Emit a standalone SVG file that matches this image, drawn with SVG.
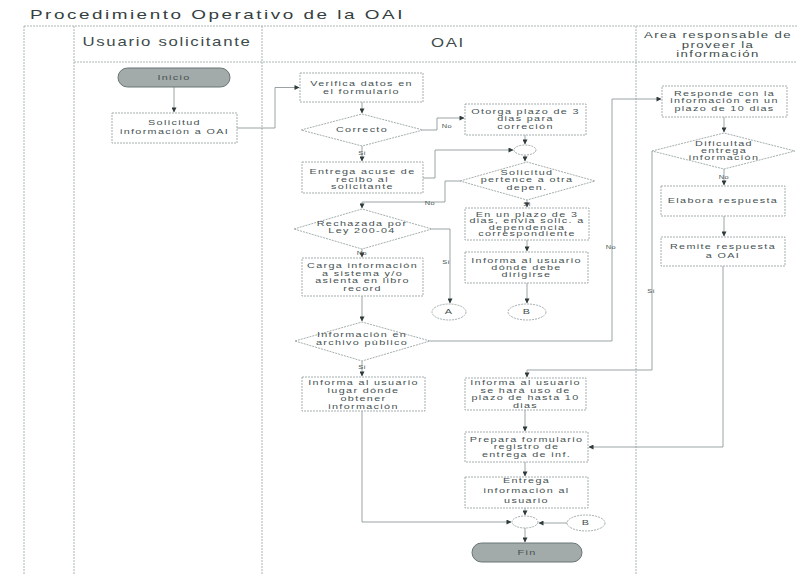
<svg xmlns="http://www.w3.org/2000/svg" width="797" height="575" viewBox="0 0 797 575">
<style>
.lane{fill:none;stroke:#aab4b4;stroke-width:1;stroke-dasharray:2 1}
.box{fill:#fff;stroke:#9aa4a4;stroke-width:0.9;stroke-dasharray:2 1}
.term{fill:#a2aaaa;stroke:#6a7474;stroke-width:1}
.con{fill:none;stroke:#8e9898;stroke-width:0.9;marker-end:url(#ah)}
text{font-family:"Liberation Sans",Arial,sans-serif;fill:#465252}
.t{font-size:7.2px;letter-spacing:0.9px;text-anchor:middle}
.lbl{font-size:5.5px;letter-spacing:0.4px;text-anchor:middle}
.hd{font-size:12px;letter-spacing:1.2px;text-anchor:middle;fill:#3d4b4b}
.hd2{font-size:8.5px;letter-spacing:0.9px;text-anchor:middle;fill:#3d4b4b}
.title{font-size:13.5px;letter-spacing:1.8px;fill:#344040}
</style>
<defs>
<marker id="ah" viewBox="0 0 10 10" refX="9" refY="5" markerWidth="7" markerHeight="5" orient="auto" markerUnits="userSpaceOnUse"><path d="M0,0 L10,5 L0,10 z" fill="#2f3a3a"/></marker>
</defs>
<rect width="797" height="575" fill="#fff"/>
<g id="frame">
<text class="title" transform="matrix(1.4 0 0 1 30 0)" x="0" y="19">Procedimiento Operativo de la OAI</text>
<path class="lane" d="M24,26 H797 M24,26 V575 M74,26 V575 M262,26 V575 M636,26 V575 M74,62 H797"/>
<text class="hd" transform="matrix(1.4 0 0 1 167 0)" x="0" y="46">Usuario solicitante</text>
<text class="hd" transform="matrix(1.4 0 0 1 448 0)" x="0" y="47">OAI</text>
<text class="hd2" transform="matrix(1.55 0 0 1 718 0)"><tspan x="0" y="38">Area responsable de</tspan><tspan x="0" y="48">proveer la</tspan><tspan x="0" y="57">información</tspan></text>
</g>
<g id="connectors">
<path class="con" d="M174,87 V112"/>
<path class="con" d="M237,128 H275 V87.5 H299"/>
<path class="con" d="M362,102 V113"/>
<path class="con" d="M423,130 H437 V118 H464"/>
<path class="con" d="M362,146 V161"/>
<path class="con" d="M525,135 V144"/>
<path class="con" d="M423,178 H435 V150 H513"/>
<path class="con" d="M525,155 V161"/>
<path class="con" d="M460,181 H445 V202 H362 V208"/>
<path class="con" d="M527,200 V207"/>
<path class="con" d="M527,240 V251"/>
<path class="con" d="M527,283 V303"/>
<path class="con" d="M432,229 H450 V303"/>
<path class="con" d="M362,249 V257"/>
<path class="con" d="M362,296 V321"/>
<path class="con" d="M430,341 H612 V99 H661"/>
<path class="con" d="M362,361 V376"/>
<path class="con" d="M724,117 V132"/>
<path class="con" d="M724,169 V185"/>
<path class="con" d="M724,216 V236"/>
<path class="con" d="M652,151 V370 H527 V377"/>
<path class="con" d="M723,266 V447 H589"/>
<path class="con" d="M525,410 V431"/>
<path class="con" d="M525,462 V476"/>
<path class="con" d="M525,508 V515"/>
<path class="con" d="M362,411 V522 H511"/>
<path class="con" d="M567,523 H539"/>
<path class="con" d="M525,528 V542"/>
<text class="lbl" transform="matrix(1.35 0 0 1 447 0)" x="0" y="128">No</text>
<text class="lbl" transform="matrix(1.35 0 0 1 362 0)" x="0" y="155">Si</text>
<text class="lbl" transform="matrix(1.35 0 0 1 430 0)" x="0" y="205">No</text>
<text class="lbl" transform="matrix(1.35 0 0 1 527 0)" x="0" y="206">Si</text>
<text class="lbl" transform="matrix(1.35 0 0 1 446 0)" x="0" y="264">Si</text>
<text class="lbl" transform="matrix(1.35 0 0 1 362 0)" x="0" y="255">No</text>
<text class="lbl" transform="matrix(1.35 0 0 1 611 0)" x="0" y="249">No</text>
<text class="lbl" transform="matrix(1.35 0 0 1 362 0)" x="0" y="369">Si</text>
<text class="lbl" transform="matrix(1.35 0 0 1 724 0)" x="0" y="179">No</text>
<text class="lbl" transform="matrix(1.35 0 0 1 651 0)" x="0" y="293">Si</text>
</g>
<g id="n-inicio"><rect class="term" x="118" y="68" width="112" height="19" rx="9.5"/><text class="t" transform="matrix(1.5 0 0 1 174 0)" x="0" y="80.5">Inicio</text></g>
<g id="n-solicitud"><rect class="box" x="112" y="113" width="125" height="30"/><text class="t" transform="matrix(1.5 0 0 1 174.5 0)"><tspan x="0" y="125">Solicitud</tspan><tspan x="0" y="134">información a OAI</tspan></text></g>
<g id="n-verifica"><rect class="box" x="300" y="73" width="123" height="29"/><text class="t" transform="matrix(1.5 0 0 1 361.5 0)"><tspan x="0" y="86">Verifica datos en</tspan><tspan x="0" y="94">el formulario</tspan></text></g>
<g id="n-correcto"><polygon class="box" points="301,130 362,114 423,130 362,146"/><text class="t" transform="matrix(1.5 0 0 1 362 0)" x="0" y="132.5">Correcto</text></g>
<g id="n-otorga"><rect class="box" x="465" y="104" width="121" height="31"/><text class="t" transform="matrix(1.5 0 0 1 525.5 0)"><tspan x="0" y="114">Otorga plazo de 3</tspan><tspan x="0" y="121.5">dias para</tspan><tspan x="0" y="129">correción</tspan></text></g>
<g id="n-junta1"><ellipse class="box" cx="525" cy="150" rx="11" ry="5"/></g>
<g id="n-entrega"><rect class="box" x="302" y="162" width="121" height="31"/><text class="t" transform="matrix(1.5 0 0 1 362.5 0)"><tspan x="0" y="174.5">Entrega acuse de</tspan><tspan x="0" y="182">recibo al</tspan><tspan x="0" y="189.5">solicitante</tspan></text></g>
<g id="n-pertence"><polygon class="box" points="460,181 527,162 595,181 527,200"/><text class="t" transform="matrix(1.5 0 0 1 527 0)"><tspan x="0" y="175">Solicitud</tspan><tspan x="0" y="182.5">pertence a otra</tspan><tspan x="0" y="190">depen.</tspan></text></g>
<g id="n-rechazada"><polygon class="box" points="294,229 362,209 432,229 362,249"/><text class="t" transform="matrix(1.5 0 0 1 362 0)"><tspan x="0" y="226">Rechazada por</tspan><tspan x="0" y="233.5">Ley 200-04</tspan></text></g>
<g id="n-plazo3"><rect class="box" x="465" y="208" width="124" height="32"/><text class="t" transform="matrix(1.5 0 0 1 527 0)"><tspan x="0" y="217">En un plazo de 3</tspan><tspan x="0" y="223.5">dias, envia solic. a</tspan><tspan x="0" y="230">dependencia</tspan><tspan x="0" y="236.5">correspondiente</tspan></text></g>
<g id="n-dirigirse"><rect class="box" x="465" y="252" width="123" height="31"/><text class="t" transform="matrix(1.5 0 0 1 526.5 0)"><tspan x="0" y="263">Informa al usuario</tspan><tspan x="0" y="270">dónde debe</tspan><tspan x="0" y="277">dirigirse</tspan></text></g>
<g id="n-a"><ellipse class="box" cx="449" cy="312" rx="17" ry="8"/><text class="t" transform="matrix(1.5 0 0 1 449 0)" x="0" y="314.5">A</text></g>
<g id="n-b"><ellipse class="box" cx="527" cy="312" rx="19" ry="8"/><text class="t" transform="matrix(1.5 0 0 1 527 0)" x="0" y="314.5">B</text></g>
<g id="n-carga"><rect class="box" x="302" y="258" width="121" height="38"/><text class="t" transform="matrix(1.5 0 0 1 362.5 0)"><tspan x="0" y="268">Carga información</tspan><tspan x="0" y="276">a sistema y/o</tspan><tspan x="0" y="283.5">asienta en libro</tspan><tspan x="0" y="291">record</tspan></text></g>
<g id="n-archivo"><polygon class="box" points="295,341 362,322 430,341 362,361"/><text class="t" transform="matrix(1.5 0 0 1 362 0)"><tspan x="0" y="337">Información en</tspan><tspan x="0" y="345.5">archivo público</tspan></text></g>
<g id="n-lugar"><rect class="box" x="302" y="377" width="123" height="34"/><text class="t" transform="matrix(1.5 0 0 1 363.5 0)"><tspan x="0" y="385">Informa al usuario</tspan><tspan x="0" y="393">lugar dónde</tspan><tspan x="0" y="401">obtener</tspan><tspan x="0" y="409">información</tspan></text></g>
<g id="n-hara"><rect class="box" x="465" y="378" width="121" height="32"/><text class="t" transform="matrix(1.5 0 0 1 525.5 0)"><tspan x="0" y="385.5">Informa al usuario</tspan><tspan x="0" y="393">se hará uso de</tspan><tspan x="0" y="400.5">plazo de hasta 10</tspan><tspan x="0" y="408">dias</tspan></text></g>
<g id="n-prepara"><rect class="box" x="465" y="432" width="123" height="30"/><text class="t" transform="matrix(1.5 0 0 1 526.5 0)"><tspan x="0" y="442">Prepara formulario</tspan><tspan x="0" y="449.5">registro de</tspan><tspan x="0" y="457">entrega de inf.</tspan></text></g>
<g id="n-entregainfo"><rect class="box" x="465" y="477" width="123" height="31"/><text class="t" transform="matrix(1.5 0 0 1 526.5 0)"><tspan x="0" y="483">Entrega</tspan><tspan x="0" y="493">información al</tspan><tspan x="0" y="503.5">usuario</tspan></text></g>
<g id="n-junta2"><ellipse class="box" cx="525" cy="522" rx="13" ry="6"/></g>
<g id="n-b2"><ellipse class="box" cx="586" cy="523" rx="19" ry="8"/><text class="t" transform="matrix(1.5 0 0 1 586 0)" x="0" y="525.5">B</text></g>
<g id="n-fin"><rect class="term" x="472" y="543" width="110" height="19" rx="9.5"/><text class="t" transform="matrix(1.5 0 0 1 527 0)" x="0" y="555.5">Fin</text></g>
<g id="n-responde"><rect class="box" x="662" y="86" width="125" height="31"/><text class="t" transform="matrix(1.5 0 0 1 724.5 0)"><tspan x="0" y="96">Responde con la</tspan><tspan x="0" y="103.5">información en un</tspan><tspan x="0" y="111">plazo de 10 dias</tspan></text></g>
<g id="n-dificultad"><polygon class="box" points="652,151 724,133 795,151 724,169"/><text class="t" transform="matrix(1.5 0 0 1 724 0)"><tspan x="0" y="146">Dificultad</tspan><tspan x="0" y="153">entrega</tspan><tspan x="0" y="160.5">información</tspan></text></g>
<g id="n-elabora"><rect class="box" x="661" y="186" width="124" height="30"/><text class="t" transform="matrix(1.5 0 0 1 723 0)" x="0" y="203.5">Elabora respuesta</text></g>
<g id="n-remite"><rect class="box" x="661" y="237" width="124" height="29"/><text class="t" transform="matrix(1.5 0 0 1 723 0)"><tspan x="0" y="249">Remite respuesta</tspan><tspan x="0" y="258">a OAI</tspan></text></g>
</svg>
